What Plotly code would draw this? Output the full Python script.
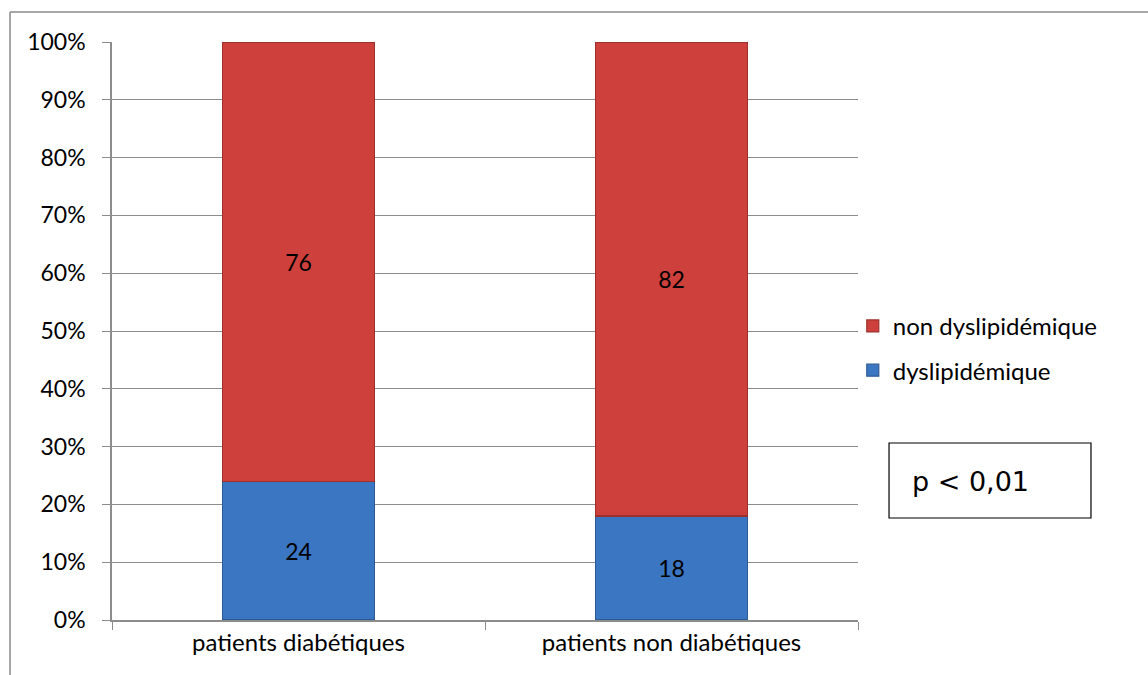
import plotly.graph_objects as go

# Groups and percentage shares per lipid status
categories = ["patients diabétiques", "patients non diabétiques"]
dyslipidemique = [24, 18]
non_dyslipidemique = [76, 82]
y_ticks = [0, 10, 20, 30, 40, 50, 60, 70, 80, 90, 100]
y_tick_labels = [f"{v}%" for v in y_ticks]

FONT = "Lato, Calibri, Carlito, sans-serif"
GRID = "#8c8c8c"

fig = go.Figure()
fig.add_trace(go.Bar(
    name="dyslipidémique", legendgroup="a", legendrank=2,
    x=categories, y=dyslipidemique,
    text=[str(v) for v in dyslipidemique],
    textposition="inside", insidetextanchor="middle",
    textfont=dict(family=FONT, size=23, color="black"),
    marker=dict(color="#3b76c2", line=dict(color="#2d5a94", width=1.2)),
))
fig.add_trace(go.Bar(
    name="non dyslipidémique", legendgroup="b", legendrank=1,
    x=categories, y=non_dyslipidemique,
    text=[str(v) for v in non_dyslipidemique],
    textposition="inside", insidetextanchor="middle",
    textfont=dict(family=FONT, size=23, color="black"),
    marker=dict(color="#cd403b", line=dict(color="#9e302c", width=1.2)),
))

fig.update_layout(
    barmode="stack",
    bargap=0.592,
    width=1148, height=675,
    margin=dict(l=112, r=290, t=42, b=55),
    paper_bgcolor="white", plot_bgcolor="white",
    font=dict(family=FONT, size=22, color="black"),
    showlegend=True,
    legend=dict(
        traceorder="grouped",
        x=0.993, xanchor="left", y=0.47, yanchor="middle",
        font=dict(family=FONT, size=24, color="black"),
        itemwidth=30, tracegroupgap=10,
        bgcolor="rgba(0,0,0,0)",
    ),
    xaxis=dict(
        showline=True, linecolor=GRID, linewidth=1.5,
        ticks="outside", tickson="boundaries", ticklen=8, tickcolor=GRID,
        tickfont=dict(family=FONT, size=24, color="black"),
        showgrid=False,
    ),
    yaxis=dict(
        range=[0, 100],
        tickvals=y_ticks, ticktext=y_tick_labels,
        showline=True, linecolor=GRID, linewidth=1.5,
        ticks="outside", ticklen=8, tickcolor=GRID,
        showgrid=True, gridcolor=GRID, gridwidth=1.2,
        tickfont=dict(family=FONT, size=23, color="black"),
        ticklabelstandoff=12,
    ),
    shapes=[
        # outer chart frame (top and left edges)
        dict(type="line", xref="paper", yref="paper",
             x0=-0.1367, x1=1.40, y0=1.0519, y1=1.0519,
             line=dict(color="#8a8a8a", width=1.5)),
        dict(type="line", xref="paper", yref="paper",
             x0=-0.1367, x1=-0.1367, y0=1.0519, y1=-0.12,
             line=dict(color="#8a8a8a", width=1.5)),
        # p-value box
        dict(type="rect", xref="paper", yref="paper",
             x0=1.0416, x1=1.3123, y0=0.1765, y1=0.3062,
             line=dict(color="black", width=1.2), fillcolor="white"),
    ],
    annotations=[
        dict(text="p < 0,01", xref="paper", yref="paper",
             x=1.0697, y=0.2388, xanchor="left", yanchor="middle",
             showarrow=False,
             font=dict(family="DejaVu Sans", size=27, color="black")),
    ],
)

fig.write_html("out.html")
